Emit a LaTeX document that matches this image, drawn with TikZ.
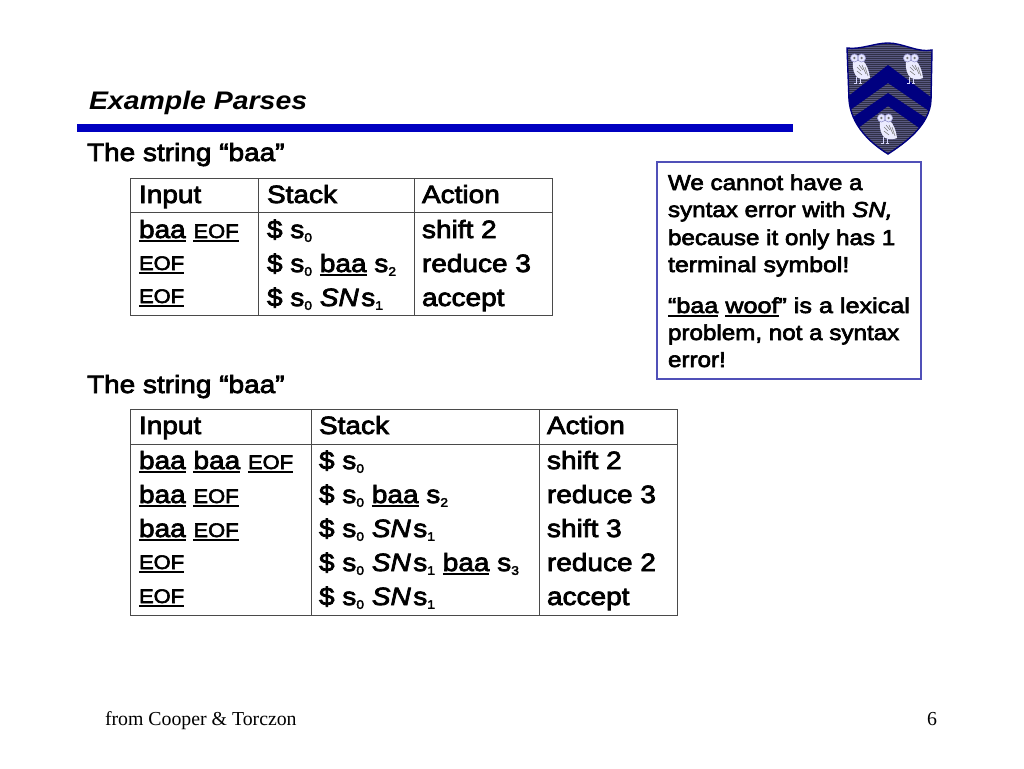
\documentclass[tikz,border=0pt]{standalone}
\usepackage{graphicx}
\usepackage{fontspec}
\setmainfont[FakeStretch=1.12,FakeBold=3]{Liberation Sans}
\newfontfamily\titlef[FakeStretch=1.12]{Liberation Sans}
\newfontfamily\serifft{Liberation Serif}
\definecolor{barblue}{HTML}{0000C0}
\definecolor{boxblue}{HTML}{5050B8}
\definecolor{grid}{HTML}{4A4A4A}
\definecolor{navy}{HTML}{000080}
\definecolor{field}{HTML}{585880}
\newcommand\ulx[1]{\setbox0\hbox{#1}\rlap{\vrule width\wd0 height -2.4pt depth 3.8pt}\box0\relax}
\newcommand\subx[1]{\raisebox{-3.8pt}{\fontsize{12.4}{14}\selectfont #1}}
\newcommand\eof{{\fontsize{19.6}{22}\selectfont\ulx{EOF}}}
\newcommand\baa{\ulx{baa}}
\newcommand\SN{\textit{SN}\kern2.5pt}
\tikzset{
 x=1pt,y=-1pt,
 cell/.style={anchor=base west,inner sep=0pt,outer sep=0pt,font=\fontsize{25}{28}\selectfont},
 note/.style={anchor=base west,inner sep=0pt,outer sep=0pt,font=\fontsize{21.6}{24}\selectfont},
 foot/.style={inner sep=0pt,outer sep=0pt,font=\fontsize{19.8}{22}\selectfont\serifft},
 gridline/.style={draw=grid,line width=.9pt},
 owl/.pic={
  \fill[white!92!blue] (-5,3) .. controls (-6,10) and (-4,17) .. (0,20) .. controls (5,22) and (10,21) .. (12,20) .. controls (11,12) and (8,5) .. (5,3) -- cycle;
  \draw[black!50,line width=.6pt] (-1,9) -- (3,13) (1,7) -- (5,12) (-1,13) -- (4,17) (4,7) -- (8,16) (7,9) -- (10,18);
  \draw[white!85!blue,line width=1pt] (-2,19) -- (-2,25) (2,20) -- (2,25) (-4,25) -- (-1,25) (1,25) -- (4,25);
  \fill[white!90!blue,draw=black!45!blue!40!white,line width=.6pt] (-3.6,0) circle (4) (3.6,0) circle (4);
  \fill[black!55] (-3.6,0) circle (1.3) (3.6,0) circle (1.3);
 }
}
\begin{document}
\begin{tikzpicture}
\useasboundingbox (0,0) rectangle (1024,768);
\fill[white] (0,0) rectangle (1024,768);
% shield
\begin{scope}
\clip (847,48) .. controls (860,50) and (875,43) .. (888,43) .. controls (903,43) and (918,53) .. (932,50) -- (931,100) .. controls (930,125) and (905,143) .. (888,154) .. controls (870,143) and (851,125) .. (849,100) -- cycle;
\fill[field] (840,40) rectangle (940,160);
\foreach \yy in {44,46,...,154} \draw[black!45!field,line width=.7pt] (840,\yy) -- (940,\yy);
\fill[navy] (888,65) -- (932,98) -- (932,113) -- (888,83) -- (846,113) -- (846,98) -- cycle;
\fill[navy] (888,93) -- (932,122) -- (932,137) -- (888,106) -- (846,137) -- (846,122) -- cycle;
\end{scope}
\draw[navy,line width=1.4pt] (847,48) .. controls (860,50) and (875,43) .. (888,43) .. controls (903,43) and (918,53) .. (932,50) -- (931,100) .. controls (930,125) and (905,143) .. (888,154) .. controls (870,143) and (851,125) .. (849,100) -- cycle;
\pic at (858,58) {owl};
\pic at (911,58) {owl};
\pic at (885,118) {owl};
% title
\node[cell,font=\fontsize{25.4}{33}\selectfont\titlef\bfseries\itshape] (title) at (89,109) {Example Parses};
\fill[barblue] (77,124) rectangle (793,132);
\node[cell] (s1) at (87,161) {The string “baa”};
\node[cell] (s2) at (87,393) {The string “baa”};
% table 1
\draw[gridline] (130,178) rectangle (552,315) (130,212) -- (552,212) (258,178) -- (258,315) (414,178) -- (414,315);
\node[cell] (a1) at (139,203) {Input};
\node[cell] (a2) at (267,203) {Stack};
\node[cell] (a3) at (422,203) {Action};
\node[cell] (a4) at (139,238) {\baa\ \eof};
\node[cell] (a5) at (139,270) {\eof};
\node[cell] (a6) at (139,303) {\eof};
\node[cell] (a7) at (267,238) {\$ s\subx{0}};
\node[cell] (a8) at (267,272) {\$ s\subx{0} \baa\ s\subx{2}};
\node[cell] (a9) at (267,306) {\$ s\subx{0} \SN s\subx{1}};
\node[cell] (a10) at (422,238) {shift 2};
\node[cell] (a11) at (422,272) {reduce 3};
\node[cell] (a12) at (422,306) {accept};
% table 2
\draw[gridline] (130,409) rectangle (677,615) (130,444) -- (677,444) (311,409) -- (311,615) (539,409) -- (539,615);
\node[cell] (b1) at (139,434) {Input};
\node[cell] (b2) at (319,434) {Stack};
\node[cell] (b3) at (547,434) {Action};
\node[cell] (b4) at (139,469) {\baa\ \baa\ \eof};
\node[cell] (b5) at (139,503) {\baa\ \eof};
\node[cell] (b6) at (139,537) {\baa\ \eof};
\node[cell] (b7) at (139,569) {\eof};
\node[cell] (b8) at (139,603) {\eof};
\node[cell] (b9) at (319,469) {\$ s\subx{0}};
\node[cell] (b10) at (319,503) {\$ s\subx{0} \baa\ s\subx{2}};
\node[cell] (b11) at (319,537) {\$ s\subx{0} \SN s\subx{1}};
\node[cell] (b12) at (319,571) {\$ s\subx{0} \SN s\subx{1} \baa\ s\subx{3}};
\node[cell] (b13) at (319,605) {\$ s\subx{0} \SN s\subx{1}};
\node[cell] (b14) at (547,469) {shift 2};
\node[cell] (b15) at (547,503) {reduce 3};
\node[cell] (b16) at (547,537) {shift 3};
\node[cell] (b17) at (547,571) {reduce 2};
\node[cell] (b18) at (547,605) {accept};
% note
\draw[boxblue,line width=1.1pt,fill=white] (657,162) rectangle (921,379);
\node[note] (n1) at (668,190) {We cannot have a};
\node[note] (n2) at (668,217) {syntax error with \textit{SN,}};
\node[note] (n3) at (668,245) {because it only has 1};
\node[note] (n4) at (668,272) {\scalebox{1.03}[1]{terminal symbol!}};
\node[note] (n5) at (668,313) {\scalebox{1.04}[1]{\ulx{“baa} \ulx{woof}” is a lexical}};
\node[note] (n6) at (668,340) {problem, not a syntax};
\node[note] (n7) at (668,367) {error!};
% footer
\node[foot,anchor=base west] (f1) at (105,725) {from Cooper \& Torczon};
\node[foot,anchor=base east] (f2) at (937,725) {6};
\end{tikzpicture}
\end{document}
